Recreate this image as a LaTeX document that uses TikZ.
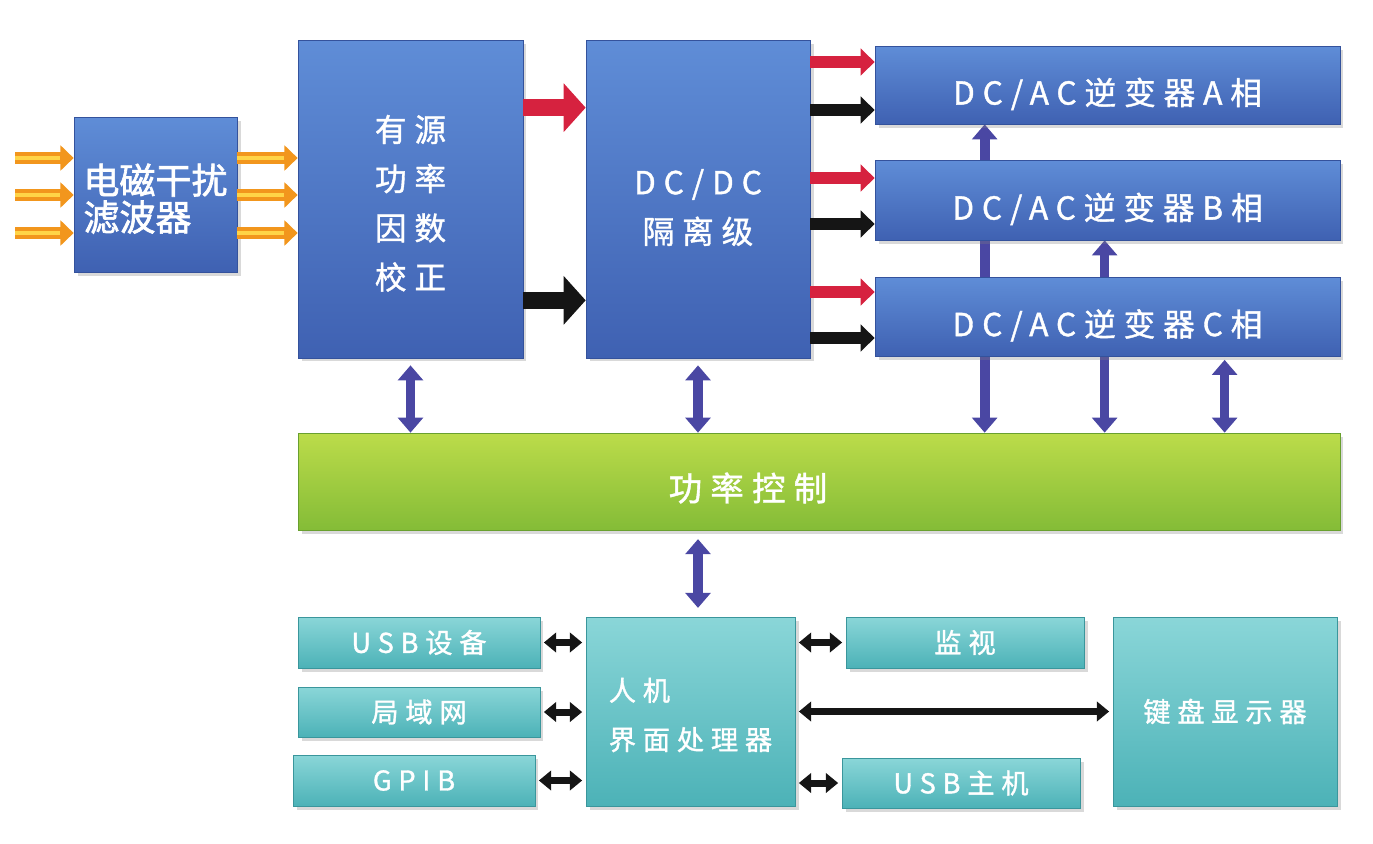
\documentclass[tikz,border=0pt]{standalone}
\usepackage{fontspec}
\newfontfamily\cjk{Noto Sans CJK SC}[LetterSpace=25,FakeBold=1.2]
\newfontfamily\cjktight{Noto Sans CJK SC}[FakeBold=1.8]
\usepackage{tikz}
\usetikzlibrary{arrows.meta,shadows}
\pgfdeclarelayer{back}
\pgfsetlayers{back,main}
\definecolor{bluetop}{HTML}{5F8DD7}
\definecolor{bluebot}{HTML}{3F61B2}
\definecolor{blueedge}{HTML}{34529C}
\definecolor{tealtop}{HTML}{8AD6D8}
\definecolor{tealbot}{HTML}{4CB2B7}
\definecolor{tealedge}{HTML}{3A969C}
\definecolor{greentop}{HTML}{BCDC4A}
\definecolor{greenbot}{HTML}{84BC37}
\definecolor{greenedge}{HTML}{69A02F}
\definecolor{arrpurple}{HTML}{4A47A3}
\definecolor{arrorange}{HTML}{F2961D}
\definecolor{arryellow}{HTML}{FFD447}
\definecolor{arrred}{HTML}{D6223F}
\definecolor{arrblack}{HTML}{151515}

\begin{document}
\begin{tikzpicture}[x=0.02cm,y=-0.02cm,
  blk/.style = {draw=blueedge, top color=bluetop, bottom color=bluebot, text=white, inner sep=0pt, align=center, font=\cjk\fontsize{18}{28}\selectfont, drop shadow={opacity=0.3,shadow xshift=2pt,shadow yshift=-2pt}},
  tq/.style = {draw=tealedge, top color=tealtop, bottom color=tealbot, text=white, inner sep=0pt, align=center, font=\cjk\fontsize{15.5}{28}\selectfont, drop shadow={opacity=0.3,shadow xshift=2pt,shadow yshift=-2pt}},
  ctl/.style = {draw=greenedge, top color=greentop, bottom color=greenbot, inner sep=0pt, drop shadow={opacity=0.3,shadow xshift=2pt,shadow yshift=-2pt}},
  ora/.style = {draw=arrorange, line width=7pt, -{Triangle[length=7.5pt,width=14pt]}, postaction={draw=arryellow, line width=2pt, -, shorten >=8pt}},
  redbig/.style = {draw=arrred, line width=10pt, -{Triangle[length=12.5pt,width=27pt]}},
  blkbig/.style = {draw=arrblack, line width=10pt, -{Triangle[length=12.5pt,width=27pt]}},
  redsm/.style = {draw=arrred, line width=6.5pt, -{Triangle[length=8pt,width=15pt]}},
  blksm/.style = {draw=arrblack, line width=6.5pt, -{Triangle[length=8pt,width=15pt]}},
  pur/.style = {draw=arrpurple, line width=5.5pt, {Triangle[length=8.5pt,width=14pt]}-{Triangle[length=8.5pt,width=14pt]}},
  dbl/.style = {draw=arrblack, line width=4pt, {Triangle[length=7pt,width=11pt]}-{Triangle[length=7pt,width=11pt]}, shorten <=2pt, shorten >=2pt}]
\useasboundingbox (0,0) rectangle (1373,843);

\node[blk, minimum width=3.26cm, minimum height=3.1cm, align=left, text height=43pt, font=\cjktight\fontsize{20.5}{21}\selectfont] (emi) at (155.5,194.5) {电磁干扰\\滤波器};
\node[blk, minimum width=4.5cm, minimum height=6.36cm, text height=104pt] (pfc) at (410.5,199) {有源\\功率\\因数\\校正};
\node[blk, minimum width=4.48cm, minimum height=6.36cm, text height=52pt] (dcdc) at (698,199) {DC/DC\\隔离级};
\node[blk, minimum width=9.3cm, minimum height=1.56cm, text height=25.5pt] (invA) at (1107.5,85) {DC/AC逆变器A相};
\node[blk, minimum width=9.3cm, minimum height=1.6cm, text height=25.5pt] (invB) at (1107.5,200) {DC/AC逆变器B相};
\node[blk, minimum width=9.3cm, minimum height=1.58cm, text height=25.5pt] (invC) at (1107.5,316.5) {DC/AC逆变器C相};
\node[ctl, minimum width=20.84cm, minimum height=1.94cm] (ctrl) at (819,481.5) {};
\node[text=white, font=\cjk\fontsize{19}{24}\selectfont] (ctrltxt) at (748,488) {功率控制};
\node[tq, minimum width=4.84cm, minimum height=1.02cm] (usb) at (419,642.5) {USB设备};
\node[tq, minimum width=4.84cm, minimum height=1cm] (lan) at (419,712) {局域网};
\node[tq, minimum width=4.84cm, minimum height=1.02cm] (gpib) at (414,780.5) {GPIB};
\node[tq, minimum width=4.18cm, minimum height=3.78cm, align=left, text height=45pt] (hmi) at (690.5,711.5) {人机\\界面处理器};
\node[tq, minimum width=4.76cm, minimum height=1.02cm] (mon) at (965,642.5) {监视};
\node[tq, minimum width=4.76cm, minimum height=1cm] (usbh) at (961,783) {USB主机};
\node[tq, minimum width=4.48cm, minimum height=3.78cm] (kbd) at (1225,711.5) {键盘显示器};

\coordinate (in1) at (15,158);
\coordinate (in2) at (15,195);
\coordinate (in3) at (15,233);
\draw[ora] (in1) -- (in1 -| emi.west);
\draw[ora] (in2) -- (in2 -| emi.west);
\draw[ora] (in3) -- (in3 -| emi.west);
\draw[ora] (in1 -| emi.east) -- (in1 -| pfc.west);
\draw[ora] (in2 -| emi.east) -- (in2 -| pfc.west);
\draw[ora] (in3 -| emi.east) -- (in3 -| pfc.west);

\coordinate (p1) at ([yshift=-1.36cm]pfc.north east);
\coordinate (p2) at ([yshift=1.16cm]pfc.south east);
\draw[redbig] (p1) -- (p1 -| dcdc.west);
\draw[blkbig] (p2) -- (p2 -| dcdc.west);

\coordinate (a1) at ([yshift=0.46cm]invA.west);
\coordinate (a2) at ([yshift=-0.5cm]invA.west);
\coordinate (b1) at ([yshift=0.44cm]invB.west);
\coordinate (b2) at ([yshift=-0.48cm]invB.west);
\coordinate (c1) at ([yshift=0.49cm]invC.west);
\coordinate (c2) at ([yshift=-0.43cm]invC.west);
\draw[redsm] (a1 -| dcdc.east) -- (a1);
\draw[blksm] (a2 -| dcdc.east) -- (a2);
\draw[redsm] (b1 -| dcdc.east) -- (b1);
\draw[blksm] (b2 -| dcdc.east) -- (b2);
\draw[redsm] (c1 -| dcdc.east) -- (c1);
\draw[blksm] (c2 -| dcdc.east) -- (c2);

\draw[pur, shorten <=4pt] (pfc.south) -- (pfc.south |- ctrl.north);
\draw[pur, shorten <=4pt] (dcdc.south) -- (dcdc.south |- ctrl.north);
\draw[pur, shorten <=5pt, shorten >=5pt] (dcdc.south |- ctrl.south) -- (dcdc.south |- hmi.north);

\coordinate (ta) at ([xshift=2.2cm]invA.south west);
\coordinate (tb) at ([xshift=4.6cm]invB.south west);
\coordinate (tc) at ([xshift=7cm]invC.south west);
\begin{pgfonlayer}{back}
\draw[pur] (ta |- ctrl.north) -- (ta);
\draw[pur] (tb |- ctrl.north) -- (tb);
\end{pgfonlayer}
\draw[pur, shorten >=2pt] (tc |- ctrl.north) -- (tc);

\draw[dbl] (usb.east) -- (usb.east -| hmi.west);
\draw[dbl] (lan.east) -- (lan.east -| hmi.west);
\draw[dbl] (gpib.east) -- (gpib.east -| hmi.west);
\draw[dbl] (mon.west) -- (mon.west -| hmi.east);
\draw[dbl] (usbh.west) -- (usbh.west -| hmi.east);
\draw[dbl] (hmi.east) -- (kbd.west);
\end{tikzpicture}
\end{document}
